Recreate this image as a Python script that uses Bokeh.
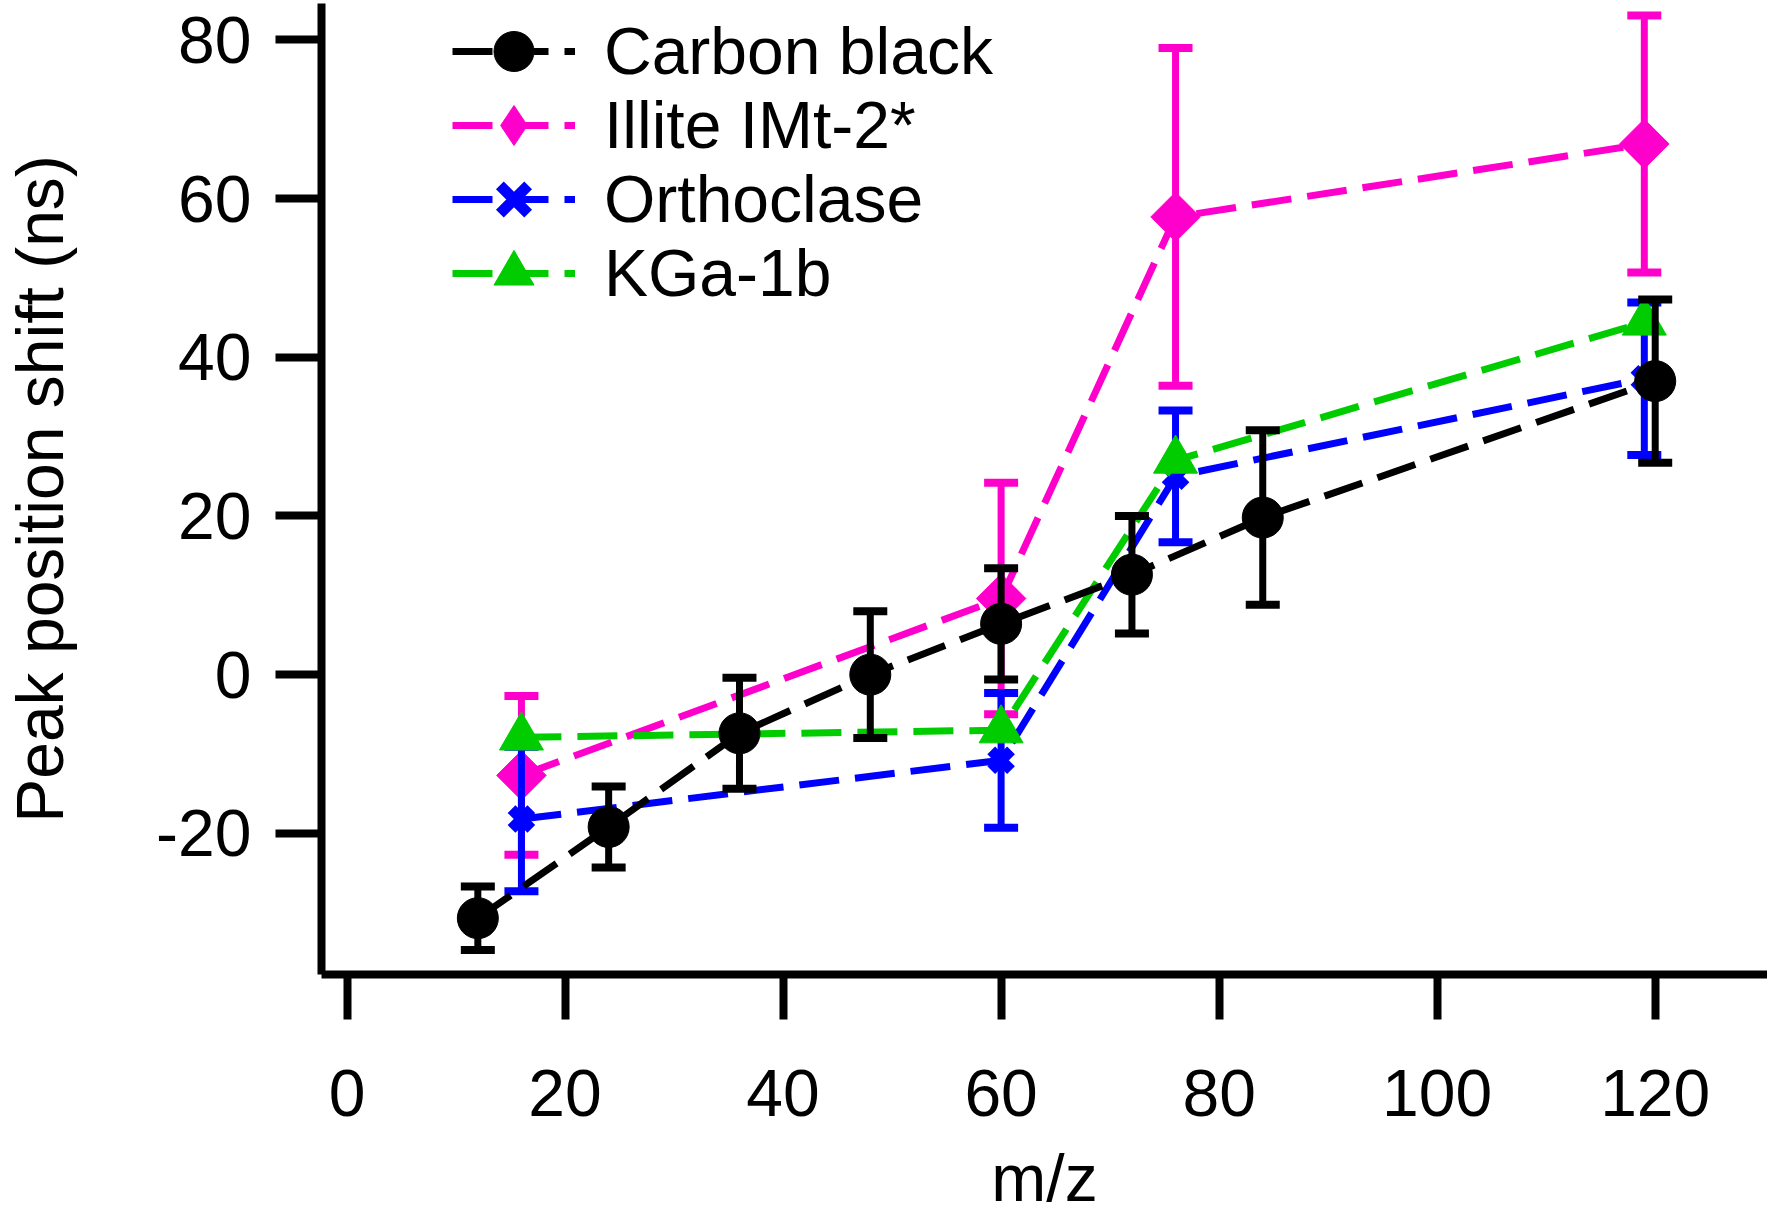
import numpy as np

from bokeh.plotting import figure
from bokeh.models import Range1d, FixedTicker, Legend, LegendItem
from bokeh.embed import file_html
from bokeh.resources import INLINE

# values
cb_x = [12, 24, 36, 48, 60, 72, 84, 120]
cb_y = [-30.7, -19.2, -7.4, 0.0, 6.4, 12.6, 19.8, 37.0]
cb_err = [4.0, 5.1, 7.0, 8.0, 7.0, 7.4, 11.0, 10.3]

il_x = [16, 60, 76, 119]
il_y = [-12.7, 9.6, 57.7, 66.9]
il_err = [10.0, 14.6, 21.3, 16.2]

or_x = [16, 60, 76, 119]
or_y = [-18.2, -10.8, 25.0, 37.3]
or_err = [9.1, 8.5, 8.3, 9.6]

kg_x = [16, 60, 76, 119]
kg_y = [-7.9, -7.0, 27.0, 44.4]

x_ticks = [0, 20, 40, 60, 80, 100, 120]
x_tick_labels = ["0", "20", "40", "60", "80", "100", "120"]
y_ticks = [-20, 0, 20, 40, 60, 80]
y_tick_labels = ["-20", "0", "20", "40", "60", "80"]

FONT = "Liberation Sans"
FS = "66px"
DASH = "40 16"
LW = 7

p = figure(frame_width=1446, frame_height=971,
           x_range=Range1d(-2.34, 130.3), y_range=Range1d(-37.8, 84.6),
           x_axis_label="m/z", y_axis_label="Peak position shift (ns)",
           output_backend="svg", toolbar_location=None,
           min_border_left=316, min_border_right=0,
           min_border_top=3, min_border_bottom=0)

p.grid.visible = False
p.outline_line_color = None
p.background_fill_color = "white"


def errorbars(x, y, err, color):
    lo = np.array(y) - np.array(err)
    hi = np.array(y) + np.array(err)
    p.segment(x0=x, y0=lo, x1=x, y1=hi, line_color=color, line_width=LW)
    p.scatter(x, hi, marker="dash", size=34, line_color=color, line_width=8)
    p.scatter(x, lo, marker="dash", size=34, line_color=color, line_width=8)


# Illite
errorbars(il_x, il_y, il_err, "#FF00CC")
il_line = p.line(il_x, il_y, line_color="#FF00CC", line_width=LW, line_dash=DASH)
# small diamonds hidden under the rotated squares; they give the legend key
il_key = p.scatter(il_x, il_y, marker="diamond", size=10,
                   fill_color="#FF00CC", line_color="#FF00CC")
p.scatter(il_x, il_y, marker="square", angle=np.pi / 4, size=35,
          fill_color="#FF00CC", line_color="#FF00CC")

# Orthoclase
errorbars(or_x, or_y, or_err, "#0000FF")
or_line = p.line(or_x, or_y, line_color="#0000FF", line_width=LW, line_dash=DASH)
or_mark = p.scatter(or_x, or_y, marker="x", size=28, line_color="#0000FF",
                    line_width=11)

# KGa-1b
kg_line = p.line(kg_x, kg_y, line_color="#00CC00", line_width=LW, line_dash=DASH)
kg_mark = p.scatter(kg_x, kg_y, marker="triangle", size=44,
                    fill_color="#00CC00", line_color="#00CC00")

# Carbon black
errorbars(cb_x, cb_y, cb_err, "black")
cb_line = p.line(cb_x, cb_y, line_color="black", line_width=LW, line_dash=DASH)
cb_mark = p.scatter(cb_x, cb_y, marker="circle", size=41,
                    fill_color="black", line_color="black")

entries = [
    ("Carbon black", [cb_line, cb_mark]),
    ("Illite IMt-2*", [il_line, il_key]),
    ("Orthoclase", [or_line, or_mark]),
    ("KGa-1b", [kg_line, kg_mark]),
]
# one legend per row so the keys can be tall while rows stay close
for i, (label, rends) in enumerate(entries):
    lg = Legend(items=[LegendItem(label=label, renderers=rends)],
                location=(131, 873 - 74 * i))
    lg.label_text_font = FONT
    lg.label_text_font_size = FS
    lg.label_text_color = "black"
    lg.glyph_width = 123
    lg.glyph_height = 100
    lg.label_height = 74
    lg.label_standoff = 29
    lg.padding = 0
    lg.margin = 0
    lg.border_line_color = None
    lg.background_fill_alpha = 0
    p.add_layout(lg)

for ax in (p.xaxis[0], p.yaxis[0]):
    ax.axis_line_width = 8
    ax.axis_line_color = "black"
    ax.major_tick_line_width = 8
    ax.major_tick_line_color = "black"
    ax.major_tick_in = 0
    ax.minor_tick_line_color = None
    ax.major_label_text_font = FONT
    ax.major_label_text_font_size = FS
    ax.major_label_text_color = "black"
    ax.axis_label_text_font = FONT
    ax.axis_label_text_font_size = FS
    ax.axis_label_text_font_style = "normal"
    ax.axis_label_text_color = "black"

p.xaxis.ticker = FixedTicker(ticks=x_ticks)
p.xaxis.major_label_overrides = dict(zip(x_ticks, x_tick_labels))
p.xaxis.major_tick_out = 45
p.xaxis.major_label_standoff = 50
p.xaxis.axis_label_standoff = 22

p.yaxis.ticker = FixedTicker(ticks=y_ticks)
p.yaxis.major_label_overrides = dict(zip(y_ticks, y_tick_labels))
p.yaxis.major_tick_out = 46
p.yaxis.major_label_standoff = 24
p.yaxis.axis_label_standoff = 76

open("out.html", "w").write(file_html(p, INLINE))
